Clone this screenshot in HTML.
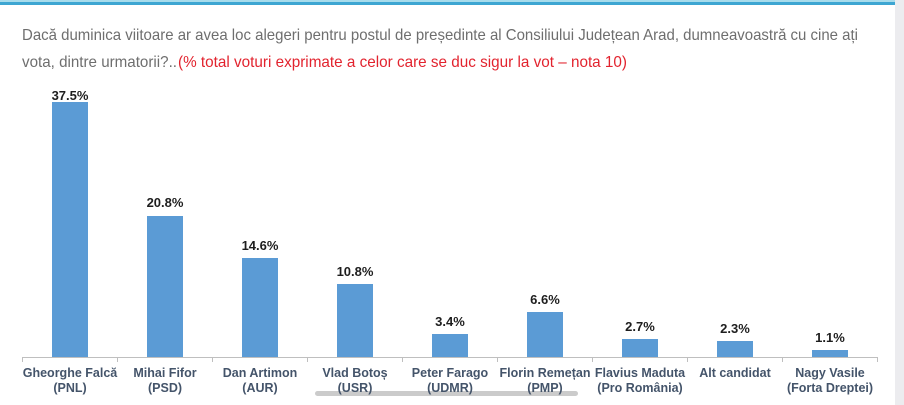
<!DOCTYPE html>
<html>
<head>
<meta charset="utf-8">
<style>
html,body{margin:0;padding:0;background:#fff;}
body{width:904px;height:405px;overflow:hidden;}
svg{display:block;}
.t{font-family:"Liberation Sans",Arial,sans-serif;font-size:16px;fill:#6e6e6e;}
.r{fill:#e2232e;}
.v{font-family:"Liberation Sans",Arial,sans-serif;font-size:13px;font-weight:bold;fill:#1e1e1e;text-anchor:middle;}
.c{font-family:"Liberation Sans",Arial,sans-serif;font-size:12.5px;font-weight:bold;fill:#44546a;text-anchor:middle;}
</style>
</head>
<body>
<svg width="904" height="405" viewBox="0 0 904 405" xmlns="http://www.w3.org/2000/svg">
  <rect x="0" y="0" width="904" height="405" fill="#ffffff"/>
  <!-- right strip -->
  <rect x="895" y="0" width="9" height="405" fill="#ececef"/>
  <!-- top blue line -->
  <rect x="0" y="0" width="895" height="2" fill="#a8dcec"/>
  <rect x="0" y="2" width="895" height="3" fill="#3ea6d2"/>

  <!-- title -->
  <text class="t" x="22" y="40" textLength="836" lengthAdjust="spacingAndGlyphs">Dacă duminica viitoare ar avea loc alegeri pentru postul de președinte al Consiliului Județean Arad, dumneavoastră cu cine ați</text>
  <text class="t" x="22" y="67" textLength="155" lengthAdjust="spacingAndGlyphs">vota, dintre urmatorii?..</text>
  <text class="t r" x="178" y="67" textLength="449" lengthAdjust="spacingAndGlyphs">(% total voturi exprimate a celor care se duc sigur la vot – nota 10)</text>

  <!-- bars -->
  <g fill="#5b9bd5">
    <rect x="52" y="102" width="36" height="255"/>
    <rect x="147" y="216" width="36" height="141"/>
    <rect x="242" y="258" width="36" height="99"/>
    <rect x="337" y="284" width="36" height="73"/>
    <rect x="432" y="334" width="36" height="23"/>
    <rect x="527" y="312" width="36" height="45"/>
    <rect x="622" y="339" width="36" height="18"/>
    <rect x="717" y="341" width="36" height="16"/>
    <rect x="812" y="350" width="36" height="7"/>
  </g>

  <!-- axis -->
  <line x1="22" y1="357.5" x2="878" y2="357.5" stroke="#bfbfbf" stroke-width="1"/>
  <g stroke="#bfbfbf" stroke-width="1">
    <line x1="22.5" y1="357" x2="22.5" y2="362"/>
    <line x1="117.5" y1="357" x2="117.5" y2="362"/>
    <line x1="212.5" y1="357" x2="212.5" y2="362"/>
    <line x1="307.5" y1="357" x2="307.5" y2="362"/>
    <line x1="402.5" y1="357" x2="402.5" y2="362"/>
    <line x1="497.5" y1="357" x2="497.5" y2="362"/>
    <line x1="592.5" y1="357" x2="592.5" y2="362"/>
    <line x1="687.5" y1="357" x2="687.5" y2="362"/>
    <line x1="782.5" y1="357" x2="782.5" y2="362"/>
    <line x1="877.5" y1="357" x2="877.5" y2="362"/>
  </g>

  <!-- value labels -->
  <text class="v" x="70" y="100">37.5%</text>
  <text class="v" x="165" y="207">20.8%</text>
  <text class="v" x="260" y="250">14.6%</text>
  <text class="v" x="355" y="276">10.8%</text>
  <text class="v" x="450" y="326">3.4%</text>
  <text class="v" x="545" y="304">6.6%</text>
  <text class="v" x="640" y="331">2.7%</text>
  <text class="v" x="735" y="333">2.3%</text>
  <text class="v" x="830" y="342">1.1%</text>

  <!-- scrollbar -->
  <rect x="315" y="391" width="263" height="5" rx="2.5" fill="#cbcbcb"/>

  <!-- category labels -->
  <text class="c" x="70" y="377">Gheorghe Falcă</text>
  <text class="c" x="70" y="392">(PNL)</text>
  <text class="c" x="165" y="377">Mihai Fifor</text>
  <text class="c" x="165" y="392">(PSD)</text>
  <text class="c" x="260" y="377">Dan Artimon</text>
  <text class="c" x="260" y="392">(AUR)</text>
  <text class="c" x="355" y="377">Vlad Botoș</text>
  <text class="c" x="355" y="392">(USR)</text>
  <text class="c" x="450" y="377">Peter Farago</text>
  <text class="c" x="450" y="392">(UDMR)</text>
  <text class="c" x="545" y="377">Florin Remețan</text>
  <text class="c" x="545" y="392">(PMP)</text>
  <text class="c" x="640" y="377">Flavius Maduta</text>
  <text class="c" x="640" y="392">(Pro România)</text>
  <text class="c" x="735" y="377">Alt candidat</text>
  <text class="c" x="830" y="377">Nagy Vasile</text>
  <text class="c" x="830" y="392">(Forta Dreptei)</text>
</svg>
</body>
</html>
